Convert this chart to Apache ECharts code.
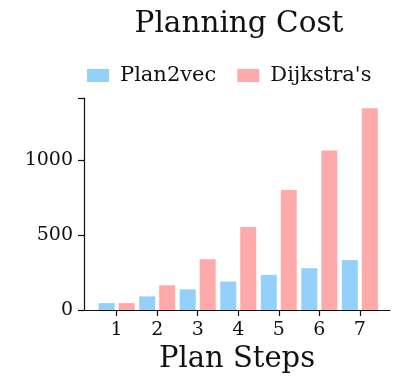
<!DOCTYPE html>
<html>
<head>
<meta charset="utf-8">
<script src="https://cdn.jsdelivr.net/npm/echarts@6/dist/echarts.min.js"></script>
<style>
  html, body { margin: 0; padding: 0; background: #fff; }
  #chart { width: 403px; height: 377px; }
</style>
</head>
<body>
<div id="chart"></div>
<script>
// Planning cost per number of plan steps
const steps = ['1', '2', '3', '4', '5', '6', '7'];
const plan2vec = [46, 91, 138, 190, 234, 279, 333];
const dijkstra = [46, 165, 339, 554, 801, 1065, 1347];
const yTicks = [0, 500, 1000];

const FONT = 'DejaVu Serif';
const INK = '#111';
const Y_MAX = 1415;

const chart = echarts.init(document.getElementById('chart'), null, { renderer: 'canvas' });

chart.setOption({
  animation: false,
  backgroundColor: '#fff',
  title: {
    text: 'Planning Cost',
    left: 234, top: 4,
    textAlign: 'center',
    textStyle: { fontFamily: FONT, fontSize: 29.5, fontWeight: 'normal', color: INK }
  },
  legend: {
    data: ['Plan2vec', "Dijkstra's"],
    left: 82, top: 60,
    icon: 'rect',
    itemWidth: 22, itemHeight: 13,
    itemGap: 21,
    textStyle: { fontFamily: FONT, fontSize: 21, color: INK, padding: [0, 0, 0, 6] }
  },
  grid: [
    // frame grid: carries the spines and the y labels
    { left: 84, right: 13, top: 98, bottom: 67, outerBoundsMode: 'none' },
    // bar grid: category bands between the spine margins
    { left: 96.4, right: 22.9, top: 98, bottom: 67, outerBoundsMode: 'none' }
  ],
  xAxis: [
    {
      gridIndex: 0, type: 'value', min: 0, max: 1,
      axisLine: { show: true, lineStyle: { color: INK, width: 1.2 } },
      axisTick: { show: false }, axisLabel: { show: false }, splitLine: { show: false },
      name: 'Plan Steps', nameLocation: 'middle', nameGap: 35,
      nameTextStyle: { fontFamily: FONT, fontSize: 29, color: INK }
    },
    {
      gridIndex: 1, type: 'category', data: steps,
      axisLine: { show: false },
      axisTick: { show: true, alignWithLabel: true, length: 6, lineStyle: { color: INK, width: 1.2 } },
      axisLabel: { fontFamily: FONT, fontSize: 19, color: INK, margin: 11 },
      splitLine: { show: false }
    }
  ],
  yAxis: [
    {
      gridIndex: 0, type: 'value', min: 0, max: Y_MAX, interval: 500,
      axisLine: { show: true, lineStyle: { color: INK, width: 1.2 } },
      axisTick: { show: true, length: 6, lineStyle: { color: INK, width: 1.2 } },
      axisLabel: {
        fontFamily: FONT, fontSize: 19, color: INK, margin: 11,
        formatter: v => (yTicks.includes(v) ? String(v) : '')
      },
      splitLine: { show: false }
    },
    {
      gridIndex: 1, type: 'value', min: 0, max: Y_MAX, interval: 500,
      show: false, splitLine: { show: false }
    }
  ],
  series: [
    {
      name: 'Plan2vec', type: 'bar', xAxisIndex: 1, yAxisIndex: 1,
      data: plan2vec, barWidth: 16, barGap: '25%',
      itemStyle: { color: '#93D0FA' }
    },
    {
      name: "Dijkstra's", type: 'bar', xAxisIndex: 1, yAxisIndex: 1,
      data: dijkstra, barWidth: 16, barGap: '25%',
      itemStyle: { color: '#FFAAAA' }
    }
  ]
});
</script>
</body>
</html>
